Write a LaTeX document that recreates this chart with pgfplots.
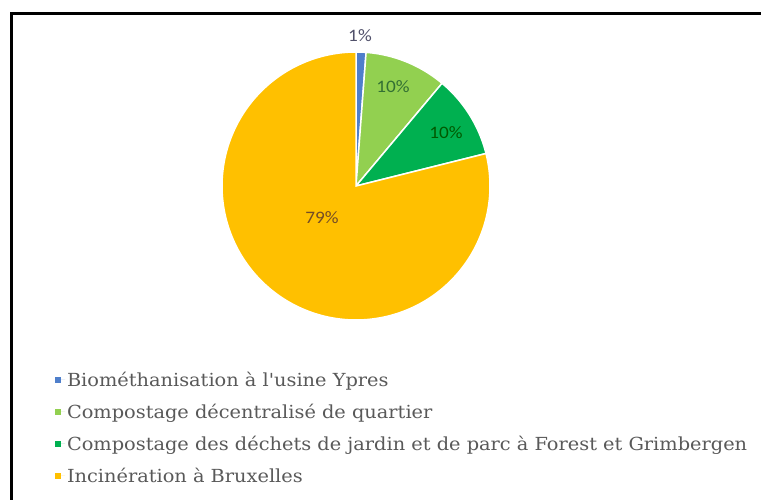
\documentclass[border=0pt]{standalone}
\usepackage{pgfplots}
\usepackage{pgfplotstable}
\pgfplotsset{compat=1.18}
\usepackage{fontspec}
\setmainfont{DejaVu Serif}[FakeStretch=1.075, Ligatures=TeXOff]
\newfontfamily\lblfont{Carlito}[FakeStretch=1.1]
\definecolor{cBio}{HTML}{4F7FCB}
\definecolor{cQuart}{HTML}{92D050}
\definecolor{cJard}{HTML}{00B050}
\definecolor{cInc}{HTML}{FFC000}
\definecolor{txt}{HTML}{595959}
\pgfplotstableread{
label value
Bio 1.2
Quart 9.9
Jard 10.0
Inc 78.9
}\piedata
\begin{document}
\begin{tikzpicture}
\pgfplotstablegetelem{0}{value}\of\piedata \pgfmathsetmacro{\vA}{\pgfplotsretval}
\pgfplotstablegetelem{1}{value}\of\piedata \pgfmathsetmacro{\vB}{\pgfplotsretval}
\pgfplotstablegetelem{2}{value}\of\piedata \pgfmathsetmacro{\vC}{\pgfplotsretval}
\pgfplotstablegetelem{3}{value}\of\piedata \pgfmathsetmacro{\vD}{\pgfplotsretval}
\pgfmathsetmacro{\aO}{90}
\pgfmathsetmacro{\aA}{90-3.6*\vA}
\pgfmathsetmacro{\aB}{\aA-3.6*\vB}
\pgfmathsetmacro{\aC}{\aB-3.6*\vC}
\pgfmathsetmacro{\aD}{\aC-3.6*\vD}
\useasboundingbox (0,0) rectangle (761pt,500pt);
\begin{axis}[
  at={(0,0)}, anchor=south west,
  width=761pt, height=500pt, scale only axis,
  xmin=0, xmax=761, ymin=-500, ymax=0,
  hide axis, clip=true,
  legend style={at={(axis cs:55,-370)}, anchor=north west, draw=none, fill=none,
    font=\fontsize{18}{21}\selectfont\color{txt}, row sep=12.1pt,
    inner sep=0pt, outer sep=0pt},
  legend cell align=left,
  legend image code/.code={\fill[#1, draw=none] (0pt,-3pt) rectangle (6pt,3pt); \path[draw=none] (0pt,0pt) -- (10pt,0pt);},
]
\addplot[forget plot, fill=cBio, draw=white, line width=1.5pt, domain=\aA:\aO, samples=10]
  ({356+134*cos(x)},{-186+134*sin(x)}) -- (356,-186) -- cycle;
\addplot[forget plot, fill=cQuart, draw=white, line width=1.5pt, domain=\aB:\aA, samples=40]
  ({356+134*cos(x)},{-186+134*sin(x)}) -- (356,-186) -- cycle;
\addplot[forget plot, fill=cJard, draw=white, line width=1.5pt, domain=\aC:\aB, samples=40]
  ({356+134*cos(x)},{-186+134*sin(x)}) -- (356,-186) -- cycle;
\addplot[forget plot, fill=cInc, draw=white, line width=1.5pt, domain=\aD:\aC, samples=200]
  ({356+134*cos(x)},{-186+134*sin(x)}) -- (356,-186) -- cycle;
\draw[black, line width=3pt] (11,-700) -- (11,-14) -- (900,-14);
\node[font=\lblfont\fontsize{17.5}{17.5}\selectfont, text=txt!90!blue] at (360,-36) {1\%};
\node[font=\lblfont\fontsize{17.5}{17.5}\selectfont, text=green!30!black!80] at (393,-87) {10\%};
\node[font=\lblfont\fontsize{17.5}{17.5}\selectfont, text=green!35!black] at (446,-133) {10\%};
\node[font=\lblfont\fontsize{17.5}{17.5}\selectfont, text=brown!60!black] at (322,-218) {79\%};
\addlegendimage{fill=cBio, draw=none}
\addlegendimage{fill=cQuart, draw=none}
\addlegendimage{fill=cJard, draw=none}
\addlegendimage{fill=cInc, draw=none}
\legend{Biométhanisation à l'usine Ypres,
  Compostage décentralisé de quartier,
  Compostage des déchets de jardin et de parc à Forest et Grimbergen,
  Incinération à Bruxelles}
\end{axis}
\end{tikzpicture}
\end{document}
